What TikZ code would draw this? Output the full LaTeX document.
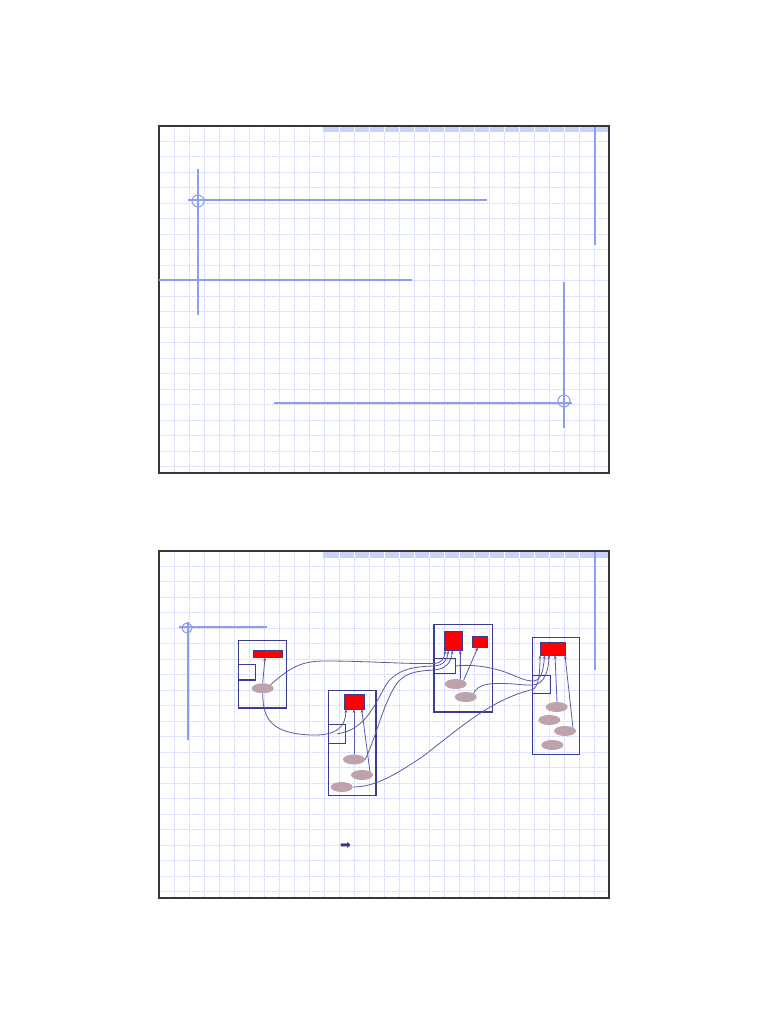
\documentclass[tikz,border=0pt]{standalone}
\usepackage{fontspec}
\newfontfamily\dejavu{DejaVu Sans}
\usetikzlibrary{arrows.meta,shapes.geometric}
\definecolor{gridsolid}{RGB}{236,239,255}
\definecolor{griddot}{RGB}{205,212,252}
\definecolor{bandblue}{RGB}{200,210,250}
\definecolor{decoblue}{RGB}{140,158,240}
\definecolor{frame}{RGB}{55,55,55}
\definecolor{boxblue}{RGB}{60,60,150}
\definecolor{connblue}{RGB}{90,90,165}
\definecolor{mauve}{RGB}{190,163,172}
\definecolor{bulblue}{RGB}{55,55,135}
\tikzset{
  gridline/.style={gridsolid, line width=0.6pt},
  griddots/.style={griddot, line width=0.6pt, dash pattern=on 1pt off 1.5pt},
  deco/.style={decoblue, line width=1.1pt},
  slideframe/.style={draw=frame, line width=1.4pt},
  box/.style={draw=boxblue, line width=1.3pt, rectangle, inner sep=0pt, fill=none},
  redbox/.style={draw=boxblue, line width=1pt, fill=red, rectangle, inner sep=0pt},
  port/.style={draw=boxblue, line width=1.3pt, rectangle, inner sep=0pt},
  blob/.style={ellipse, fill=mauve, draw=none, inner sep=0pt, minimum width=22pt, minimum height=10pt},
  conn/.style={connblue, line width=0.8pt},
  arr/.style={conn, -{Stealth[length=3.6pt,width=3pt]}},
}
\newcommand{\slidebg}[1]{%
  \begin{scope}
    \clip (159,#1) rectangle (609,#1+347);
    \foreach \x in {174,189,...,594} {
      \draw[gridline] (\x,#1) -- (\x,#1+347);
      \draw[griddots] (\x,#1) -- (\x,#1+347);
    }
    \foreach \k in {0,...,21} {
      \draw[gridline] (159,#1+15+15.5*\k) -- (609,#1+15+15.5*\k);
      \draw[griddots] (159,#1+15+15.5*\k) -- (609,#1+15+15.5*\k);
    }
    \fill[bandblue] (323,#1) rectangle (609,#1+6.5);
    \foreach \x in {339,354,...,594} {
      \draw[white, line width=0.5pt] (\x,#1) -- (\x,#1+6.5);
    }
    \draw[deco, line width=1.3pt] (595,#1) -- (595,#1+119);
  \end{scope}
  \draw[slideframe] (159,#1) rectangle (609,#1+347);
}
\begin{document}
\begin{tikzpicture}[x=1pt,y=-1pt]
\useasboundingbox (0,0) rectangle (768,1024);
\fill[white] (0,0) rectangle (768,1024);

% ---------- top slide ----------
\slidebg{126}
\draw[deco] (198,169) -- (198,315);
\draw[deco] (188,200) -- (487,200);
\draw[deco] (198,201) circle (6);
\draw[deco] (159,280) -- (412,280);
\draw[deco] (564,282) -- (564,428);
\draw[deco] (274,403) -- (572,403);
\draw[deco] (564,401) circle (6);

% ---------- bottom slide ----------
\slidebg{551}
\draw[deco] (179,627) -- (267,627);
\draw[deco] (188,622) -- (188,740);
\draw[deco] (187,628) circle (5);

% boxes
\node[box, minimum width=48.4pt, minimum height=67.3pt] (A) at (262.5,674.35) {};
\node[redbox, minimum width=29.4pt, minimum height=7.3pt] (rA) at (268,653.65) {};
\node[port, minimum width=17pt, minimum height=15.7pt] (pA) at (246.8,672.15) {};
\node[blob] (eA) at (262.7,688.3) {};

\node[box, minimum width=47.7pt, minimum height=105pt] (B) at (352.15,742.8) {};
\node[redbox, minimum width=19.7pt, minimum height=14.5pt] (rB) at (354.15,701.75) {};
\node[port, minimum width=17.4pt, minimum height=19pt] (pB) at (337,733.8) {};
\node[blob] (eB1) at (354,759.5) {};
\node[blob] (eB2) at (362,775) {};
\node[blob] (eB3) at (341.7,787) {};

\node[box, minimum width=58.3pt, minimum height=87.7pt] (C) at (463.15,668.15) {};
\node[redbox, minimum width=18.3pt, minimum height=18.6pt] (rC) at (453.15,641) {};
\node[redbox, minimum width=15.3pt, minimum height=10.7pt] (rC2) at (479.65,641.65) {};
\node[port, minimum width=21.3pt, minimum height=15.4pt] (pC) at (444.65,666) {};
\node[blob] (eC1) at (455.7,684) {};
\node[blob] (eC2) at (465.7,697) {};

\node[box, minimum width=47pt, minimum height=116.6pt] (D) at (555.8,696) {};
\node[redbox, minimum width=25pt, minimum height=12.3pt] (rD) at (552.8,648.85) {};
\node[port, minimum width=18pt, minimum height=17.6pt] (pD) at (541.3,684.5) {};
\node[blob] (eD1) at (556.7,707) {};
\node[blob] (eD2) at (549.3,720) {};
\node[blob] (eD3) at (565,731) {};
\node[blob] (eD4) at (552.3,745) {};

% arrow tips
\coordinate (tA) at (265,657.5);
\coordinate (tB1) at (346,709.2);
\coordinate (tB2) at (354,709.2);
\coordinate (tB3) at (361.7,709.2);
\coordinate (tC1) at (445,650.5);
\coordinate (tC2) at (448.3,650.5);
\coordinate (tC3) at (452.3,650.5);
\coordinate (tC4) at (460.3,650.5);
\coordinate (tC5) at (478,647.2);
\coordinate (tD1) at (540,655.3);
\coordinate (tD2) at (544.5,655.3);
\coordinate (tD3) at (549,655.3);
\coordinate (tD4) at (555,655.3);
\coordinate (tD5) at (565,655.3);

% straight arrows
\draw[arr] (eA.north) -- (tA);
\draw[arr] (eB1.north) -- (tB2);
\draw[arr] (eB2.north east) -- (tB3);
\draw[arr] (eC1.north east) -- (tC5);
\draw[arr] ([xshift=4.6pt]eC1.north) -- (tC4);
\draw[arr] ([xshift=0.3pt]eD1.north) -- (tD4);
\draw[arr] (eD3.north east) -- (tD5);

% curved connectors
\draw[arr] (eA.north east) .. controls (290,668) and (300,661) .. (325,661)
  .. controls (370,661) and (400,664) .. (434,663.5)
  .. controls (442,663) and (444.5,658) .. (tC1);
\draw[arr] (eA.south) .. controls (263,720) and (272,733) .. (310,735)
  .. controls (338,736) and (345.5,726) .. (tB1);
\draw[arr] (pB.center) .. controls (368,730) and (377,698) .. (388,682)
  .. controls (398,670) and (412,666.5) .. (434,666)
  .. controls (443,665.5) and (447.5,660) .. (tC2);
\draw[arr] (eB1.east) .. controls (377,735) and (384,700) .. (398,682)
  .. controls (407,672) and (418,671) .. (434,670)
  .. controls (446,669) and (451.5,662) .. (tC3);
\draw[arr] (eB3.east) .. controls (375,787) and (395,775) .. (422,757)
  .. controls (460,728) and (490,700) .. (532.3,689.5)
  .. controls (539,688) and (540,670) .. (tD1);
\draw[arr] (pC.east) .. controls (472,664) and (490,667) .. (505,672)
  .. controls (518,677) and (525,681) .. (533,681)
  .. controls (541,681) and (543.5,670) .. (tD2);
\draw[arr] (eC2.north east) .. controls (478,684) and (490,683) .. (505,683.5)
  .. controls (518,684) and (526,685.5) .. (533,685)
  .. controls (545,684) and (548.5,670) .. (tD3);

% bullet arrow
\node[text=bulblue, font=\dejavu\fontsize{13}{13}\selectfont, inner sep=0pt] (bul) at (345.5,846) {➡};
\end{tikzpicture}
\end{document}
